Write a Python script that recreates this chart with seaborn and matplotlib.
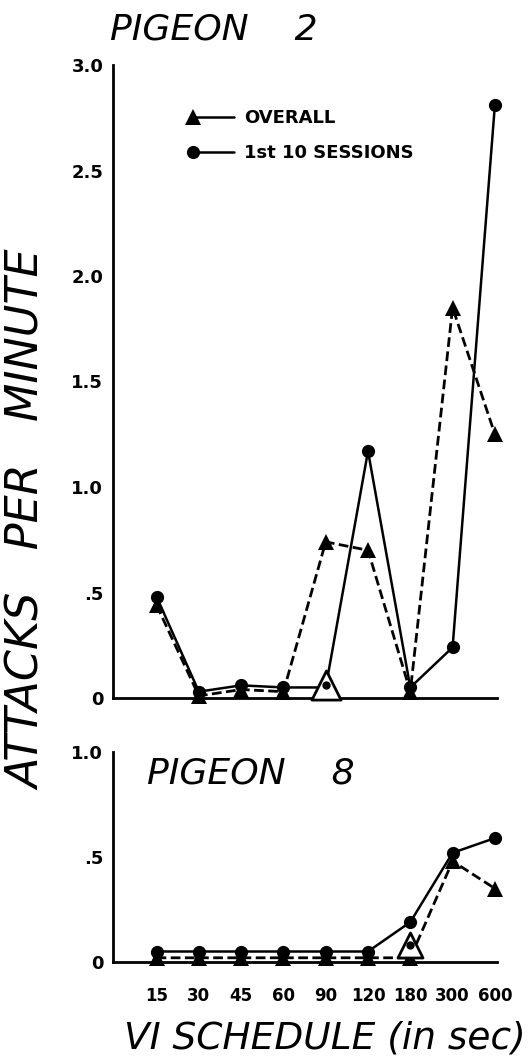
import matplotlib
matplotlib.use("Agg")
import matplotlib.pyplot as plt
import seaborn as sns
import pandas as pd
from matplotlib.lines import Line2D
from matplotlib.legend_handler import HandlerLine2D

# ---------------- data ----------------
schedules = ["15", "30", "45", "60", "90", "120", "180", "300", "600"]

p2_overall = [0.44, 0.01, 0.04, 0.03, 0.74, 0.70, 0.03, 1.85, 1.25]
p2_first10 = [0.48, 0.03, 0.06, 0.05, 0.05, 1.17, 0.05, 0.24, 2.81]
p2_open_sched = ["90"]
p2_open_val = [0.06]
p2_hidden = ["90"]          # first-10 point hidden under the open symbol

p8_overall = [0.02, 0.02, 0.02, 0.02, 0.02, 0.02, 0.02, 0.48, 0.35]
p8_first10 = [0.05, 0.05, 0.05, 0.05, 0.05, 0.05, 0.19, 0.52, 0.59]
p8_open_sched = ["180"]
p8_open_val = [0.08]
p8_hidden = []

p2_yticks = [0, 0.5, 1.0, 1.5, 2.0, 2.5, 3.0]
p2_yticklabels = ["0", ".5", "1.0", "1.5", "2.0", "2.5", "3.0"]
p8_yticks = [0, 0.5, 1.0]
p8_yticklabels = ["0", ".5", "1.0"]

legend_labels = ["OVERALL", "1st 10 SESSIONS"]

# ---------------- style ----------------
sns.set_style("white")
plt.rcParams["font.family"] = ["DejaVu Sans"]
for k in ["text.color", "axes.labelcolor", "xtick.color", "ytick.color",
          "axes.edgecolor"]:
    plt.rcParams[k] = "black"

W, H = 530, 1060
fig = plt.figure(figsize=(W / 100, H / 100), dpi=100)

pos = {s: i for i, s in enumerate(schedules)}
xpos = [pos[s] for s in schedules]

LW_SOLID = 1.8
LW_DASH = 2.0
DASH = (0, (3.5, 1.6))


class LeftMarkerHandler(HandlerLine2D):
    def create_artists(self, legend, orig_handle, xdescent, ydescent,
                       width, height, fontsize, trans):
        arts = super().create_artists(legend, orig_handle, xdescent, ydescent,
                                      width, height, fontsize, trans)
        for a in arts:
            a.set_markevery([0])
        return arts


def draw_panel(ax, overall, first10, open_sched, open_val, hidden, ymax,
               yticks, yticklabels, open_ms, xtick_len, show_xlabels):
    open_idx = [pos[s] for s in open_sched]
    hidden_idx = [pos[s] for s in hidden]
    keep = [i for i in range(len(schedules)) if i not in hidden_idx]
    df = pd.DataFrame({"x": xpos, "overall": overall, "first10": first10})
    sns.lineplot(data=df, x="x", y="overall", ax=ax, color="black",
                 linewidth=LW_DASH, linestyle=DASH, marker="^", markersize=11,
                 markeredgewidth=0, errorbar=None, clip_on=False, zorder=3)
    sns.lineplot(data=df, x="x", y="first10", ax=ax, color="black",
                 linewidth=LW_SOLID, marker="o", markersize=9.5,
                 markeredgewidth=0, markevery=keep, errorbar=None,
                 clip_on=False, zorder=4)
    odf = pd.DataFrame({"x": open_idx, "y": open_val})
    sns.scatterplot(data=odf, x="x", y="y", ax=ax, marker="^", s=open_ms ** 2,
                    facecolor="white", edgecolor="black", linewidth=2.0,
                    clip_on=False, zorder=5)
    sns.scatterplot(data=odf, x="x", y="y", ax=ax, marker="o", s=6 ** 2,
                    color="black", linewidth=0, clip_on=False, zorder=6)

    ax.set_xlim(-1.03, 8.05)
    ax.set_ylim(0, ymax)
    ax.set_xticks(xpos)
    ax.set_xticklabels(schedules if show_xlabels else [])
    ax.set_yticks(yticks)
    ax.set_yticklabels(yticklabels)
    ax.set_xlabel("")
    ax.set_ylabel("")
    for side in ["top", "right"]:
        ax.spines[side].set_visible(False)
    for side in ["left", "bottom"]:
        ax.spines[side].set_linewidth(2.0)
        ax.spines[side].set_color("black")
    ax.tick_params(axis="x", direction="out", length=xtick_len, width=1.6,
                   pad=5, labelsize=12, color="black", labelcolor="black")
    ax.tick_params(axis="y", direction="in", length=8, width=2.0, pad=7,
                   labelsize=13, color="black", labelcolor="black")
    for lab in ax.get_xticklabels() + ax.get_yticklabels():
        lab.set_fontweight("bold")
    ax.patch.set_alpha(0)


ax1 = fig.add_axes([113 / W, 1 - 698 / H, 384 / W, 633 / H])
draw_panel(ax1, p2_overall, p2_first10, p2_open_sched, p2_open_val, p2_hidden,
           3.0, p2_yticks, p2_yticklabels, 21, 9, False)

ax2 = fig.add_axes([113 / W, 1 - 962 / H, 384 / W, 210 / H])
draw_panel(ax2, p8_overall, p8_first10, p8_open_sched, p8_open_val, p8_hidden,
           1.0, p8_yticks, p8_yticklabels, 18, 13, True)

# legend (top panel)
h1 = Line2D([], [], color="black", linewidth=LW_SOLID, marker="^", markersize=11,
            markeredgewidth=0)
h2 = Line2D([], [], color="black", linewidth=LW_SOLID, marker="o", markersize=9.5,
            markeredgewidth=0)
leg = ax1.legend([h1, h2], legend_labels, loc="upper left",
                 bbox_to_anchor=(0.208, 0.93), frameon=False, borderpad=0,
                 borderaxespad=0, handlelength=2.3, handletextpad=0.55,
                 labelspacing=0.95, numpoints=1,
                 handler_map={h1: LeftMarkerHandler(numpoints=1),
                              h2: LeftMarkerHandler(numpoints=1)},
                 prop={"weight": "bold", "size": 13})
for t in leg.get_texts():
    t.set_color("black")

# titles and axis labels
fig.text(110 / W, 1 - 40 / H, "PIGEON    2", fontsize=26, style="oblique",
         ha="left", va="baseline", color="black")
ax2.text((147 - 113) / 384, (962 - 783) / 210, "PIGEON    8", fontsize=26,
         style="oblique", ha="left", va="baseline", transform=ax2.transAxes,
         color="black")
fig.text(28 / W, 1 - 520 / H, "ATTACKS   PER   MINUTE", fontsize=32,
         style="oblique", rotation=90, ha="center", va="center", color="black")
fig.text(325 / W, 1 - 1048 / H, "VI SCHEDULE (in sec)", fontsize=27,
         style="oblique", ha="center", va="baseline", color="black")

fig.savefig("out.png", dpi=100)
